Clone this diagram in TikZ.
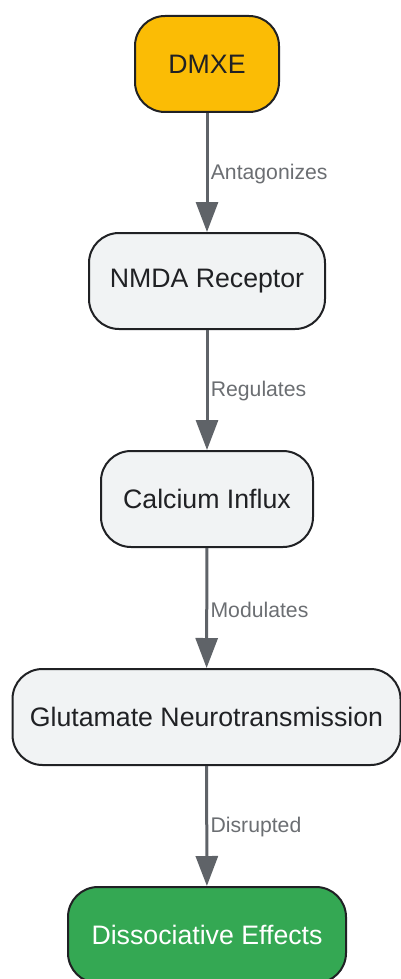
\documentclass[tikz,border=0pt]{standalone}
\usepackage{fontspec}
\setmainfont{Liberation Sans}
\usetikzlibrary{arrows.meta}
\definecolor{ambar}{HTML}{FBBC05}
\definecolor{leaf}{HTML}{34A853}
\definecolor{pale}{HTML}{F1F3F4}
\definecolor{ink}{HTML}{202124}
\definecolor{wire}{HTML}{5F6368}
\definecolor{note}{HTML}{6B6E72}

\begin{document}
\begin{tikzpicture}[x=1pt, y=-1pt,
  box/.style={draw=ink, line width=2pt, rounded corners=30pt, fill=pale,
    text=ink, minimum height=96pt, inner sep=0pt, font=\fontsize{26.7}{30}\selectfont},
  link/.style={draw=wire, line width=3pt, -{Triangle[width=22pt,length=30pt]}},
  tag/.style={right, xshift=-1pt, yshift=-1.5pt, text=note, font=\fontsize{21.2}{25}\selectfont}]

  \useasboundingbox (0,0) rectangle (401,979);

  \node[box, fill=ambar, minimum width=144pt] (dmxe) at (207,64) {DMXE};
  \node[box, minimum width=236pt] (nmda) at (207,281) {NMDA Receptor};
  \node[box, minimum width=212pt] (calcium) at (207,499) {Calcium Influx};
  \node[box, minimum width=388pt] (glutamate) at (206.5,717) {Glutamate Neurotransmission};
  \node[box, fill=leaf, text=white, minimum width=278pt] (effects) at (207,935) {Dissociative Effects};

  \draw[link] (dmxe) -- node[tag] {Antagonizes} (nmda);
  \draw[link] (nmda) -- node[tag] {Regulates} (calcium);
  \draw[link] (calcium) -- node[tag] {Modulates} (glutamate);
  \draw[link] (glutamate) -- node[tag] {Disrupted} (effects);

\end{tikzpicture}
\end{document}
